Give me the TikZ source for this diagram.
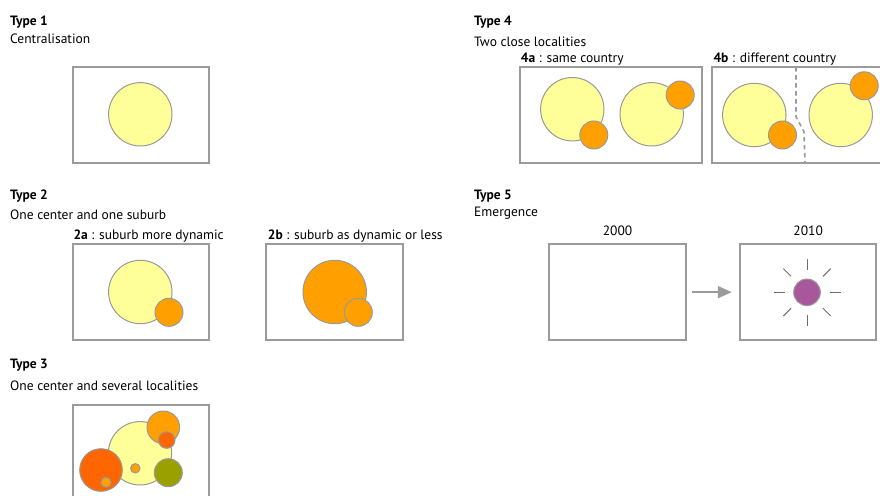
\documentclass[tikz,border=0pt]{standalone}
\usepackage{fontspec}
\setmainfont{PT Sans}
\usetikzlibrary{arrows.meta}
\definecolor{framegray}{HTML}{9B9B9B}
\definecolor{rimgray}{HTML}{999999}
\definecolor{raygray}{HTML}{6E6E6E}
\definecolor{cityyellow}{HTML}{FFFF99}
\definecolor{cityorange}{HTML}{FFA000}
\definecolor{cityred}{HTML}{FF6600}
\definecolor{cityolive}{HTML}{99A000}
\definecolor{citypurple}{HTML}{A8579B}
\tikzset{
  typebox/.style={draw=framegray, line width=2pt, rectangle, inner sep=0pt, outer sep=0pt,
                  minimum width=136.3pt, minimum height=96pt},
  widebox/.style={typebox, minimum width=181.4pt},
  city/.style={draw=rimgray, line width=1pt},
  caption/.style={anchor=base west, inner sep=0pt, font=\fontsize{13.5}{15}\selectfont},
  title/.style={caption, font=\fontsize{13.5}{15}\selectfont\bfseries},
}
\begin{document}
\begin{tikzpicture}[x=1pt, y=-1pt]
  \useasboundingbox (0,0) rectangle (880,495);
  {\color{black}

  % Type 1
  \node [title] (t1) at (10,25.7) {Type 1};%
  \node [caption] (t1sub) at (10,43.3) {Centralisation};%
  \node [typebox] (box1) at (140.85,114.5) {};%
  \draw [city, fill=cityyellow] (140.3,114.3) circle (31.7);%

  % Type 2
  \node [title] (t2) at (10,199.3) {Type 2};%
  \node [caption] (t2sub) at (10,219.3) {One center and one suburb};%
  \node [caption] (t2a) at (73.3,239.3) {\textbf{2a} : suburb more dynamic};%
  \node [caption] (t2b) at (267.7,239.3) {\textbf{2b} : suburb as dynamic or less};%
  \node [typebox] (box2a) at (140.85,292.15) {};%
  \node [typebox] (box2b) at (334.5,292.15) {};%
  \draw [city, fill=cityyellow] (140.3,292) circle (31.7);%
  \draw [city, fill=cityorange] (169,312.3) circle (14);%
  \draw [city, fill=cityorange] (334.7,292) circle (31.7);%
  \draw [city, fill=cityorange] (358.3,312.3) circle (14);%

  % Type 3
  \node [title] (t3) at (10,368.3) {Type 3};%
  \node [caption] (t3sub) at (10,390) {One center and several localities};%
  \node [typebox] (box3) at (140.85,453) {};%
  \draw [city, fill=cityyellow] (140,453.3) circle (31.7);%
  \draw [city, fill=cityorange] (163.3,427.3) circle (16.3);%
  \draw [city, fill=cityred] (166.7,440) circle (8.3);%
  \draw [city, fill=cityred] (101,470) circle (21.3);%
  \draw [city, fill=cityorange] (106,482.3) circle (5);%
  \draw [city, fill=cityorange] (135.3,468.3) circle (4.7);%
  \draw [city, fill=cityolive] (168.3,472.7) circle (14);%

  % Type 4
  \node [title] (t4) at (474,25.7) {Type 4};%
  \node [caption] (t4sub) at (474,46.7) {Two close localities};%
  \node [caption] (t4a) at (520.7,62.3) {\textbf{4a} : same country};%
  \node [caption] (t4b) at (713.3,62.3) {\textbf{4b} : different country};%
  \node [widebox] (box4a) at (611,115) {};%
  \node [widebox] (box4b) at (803,115) {};%
  \draw [city, fill=cityyellow] (572.3,109.2) circle (31.7);%
  \draw [city, fill=cityorange] (593.8,135) circle (14);%
  \draw [city, fill=cityyellow] (651.7,114.3) circle (31.7);%
  \draw [city, fill=cityorange] (680.2,95) circle (14);%
  % border between the two countries
  \draw [framegray, line width=1.6pt, dash pattern=on 4.5pt off 3.5pt]
    (box4b.north -| 796,0) -- (796,116.7) -- (804,131.7) -- (box4b.south -| 805,0);%
  \draw [city, fill=cityyellow] (754.3,115) circle (31.7);%
  \draw [city, fill=cityorange] (782.5,135) circle (14);%
  \draw [city, fill=cityyellow] (840.7,115) circle (31.7);%
  \draw [city, fill=cityorange] (864.2,85.8) circle (14);%

  % Type 5
  \node [title] (t5) at (474,199) {Type 5};%
  \node [caption] (t5sub) at (474,216.7) {Emergence};%
  \node [typebox] (box2000) at (617.5,292.15) {};%
  \node [typebox] (box2010) at (808.2,292.15) {};%
  \node [caption, anchor=base] (y2000) at (617.5,235) {2000};%
  \node [caption, anchor=base] (y2010) at (808.2,235) {2010};%
  \draw [framegray, line width=2pt, -{Triangle[length=14pt,width=12pt]},
         shorten <=6.6pt, shorten >=8.3pt] (box2000) -- (box2010);%
  \coordinate (sun) at (807,292.3);%
  \foreach \a in {0,45,...,315}
    \draw [raygray, line width=1pt] (sun) ++(\a:22.5) -- ++(\a:11);%
  \draw [city, fill=citypurple] (sun) circle (13.3);%
  }
\end{tikzpicture}
\end{document}
